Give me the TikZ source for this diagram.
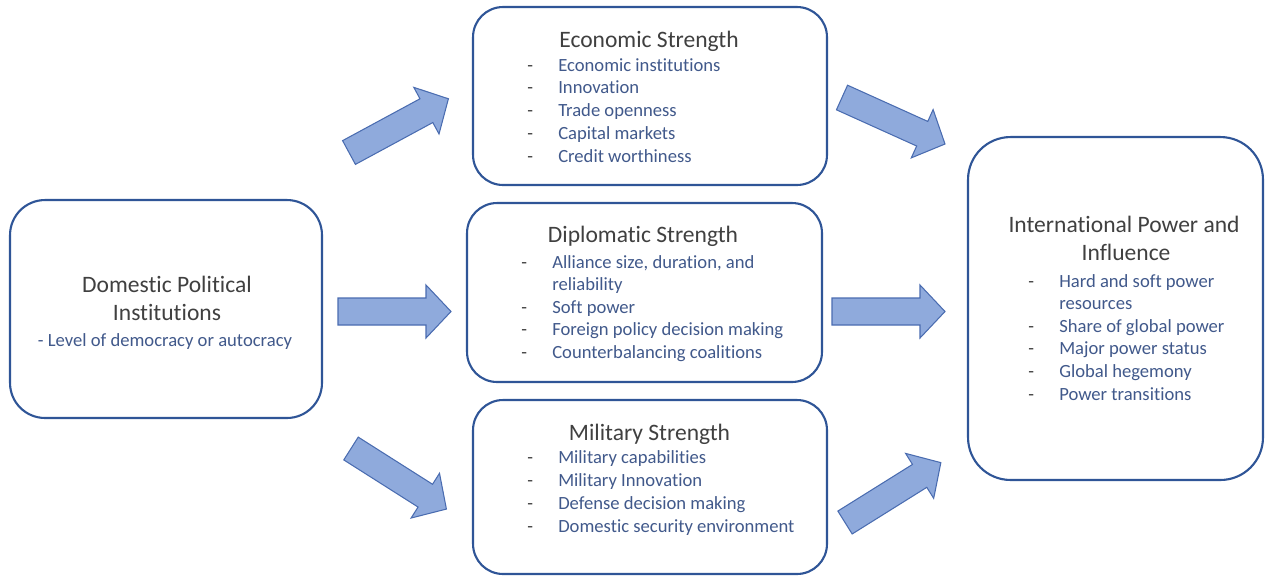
\documentclass[tikz,border=0pt]{standalone}
\usepackage{fontspec}
\setmainfont{Carlito}[RawFeature={-liga;-clig;-dlig;-calt}]
\definecolor{boxblue}{HTML}{2F5597}
\definecolor{arrowfill}{HTML}{8FAADC}
\definecolor{arrowline}{HTML}{4A6CB0}
\definecolor{headgray}{HTML}{404040}
\definecolor{itemblue}{HTML}{41598B}
\newcommand{\headfont}{\fontsize{13.4}{15.9}\selectfont}
\newcommand{\itemfont}{\fontsize{10.6}{12.9}\selectfont}
\newcommand{\itm}[1]{\makebox[17.6pt][l]{\color{headgray}-}\textcolor{itemblue}{#1}}
\newcommand{\cont}[1]{\hspace*{17.6pt}\textcolor{itemblue}{#1}}
\tikzset{
  panel/.style={draw=boxblue, line width=1.2pt, fill=white, rounded corners=#1},
  heading/.style={text=headgray, font=\headfont, inner sep=0, anchor=base},
  item/.style={font=\itemfont, inner sep=0, anchor=base west},
  blockarrow/.pic={
    \draw[draw=arrowline, fill=arrowfill, line width=0.6pt, line join=miter]
      (0,-13.5) -- (88,-13.5) -- (88,-26.5) -- (113,0) -- (88,26.5)
      -- (88,13.5) -- (0,13.5) -- cycle;
  }
}
\begin{document}
\begin{tikzpicture}[x=0.02cm,y=-0.02cm]
  \useasboundingbox (0,0) rectangle (1266,576);
  % boxes
  \node[panel=0.7cm, minimum width=6.24cm, minimum height=4.36cm] (dom) at (166,309) {};
  \node[panel=0.6cm, minimum width=7.08cm, minimum height=3.56cm] (eco) at (650,96) {};
  \node[panel=0.6cm, minimum width=7.1cm, minimum height=3.58cm] (dip) at (644.5,292.5) {};
  \node[panel=0.6cm, minimum width=7.08cm, minimum height=3.48cm] (mil) at (650,487) {};
  \node[panel=0.85cm, minimum width=5.9cm, minimum height=6.86cm] (intl) at (1115.5,308.5) {};

  % domestic political institutions
  \node[heading] (domtitleA) at (167,292) {Domestic Political};
  \node[heading] (domtitleB) at (167,320) {Institutions};
  \node[heading, font=\itemfont, text=itemblue] (domitem) at (165,346) {- Level of democracy or autocracy};

  % economic strength
  \node[heading] (ecotitle) at (649,47) {Economic Strength};
  \foreach \t [count=\i] in {Economic institutions, Innovation, Trade openness,
      Capital markets, Credit worthiness}
    \node[item] (eco\i) at (527,{71+22.75*(\i-1)}) {\itm{\t}};

  % diplomatic strength
  \node[heading] (diptitle) at (643,242) {Diplomatic Strength};
  \node[item] (dip1) at (521,268) {\itm{Alliance size, duration, and}};
  \node[item] (dip1b) at (521,290.5) {\cont{reliability}};
  \node[item] (dip2) at (521,313) {\itm{Soft power}};
  \node[item] (dip3) at (521,335.5) {\itm{Foreign policy decision making}};
  \node[item] (dip4) at (521,358) {\itm{Counterbalancing coalitions}};

  % military strength
  \node[heading] (miltitle) at (649.5,440) {Military Strength};
  \foreach \t [count=\i] in {Military capabilities, Military Innovation,
      Defense decision making, Domestic security environment}
    \node[item] (mil\i) at (527,{463+23.3*(\i-1)}) {\itm{\t}};

  % international power and influence
  \node[heading] (intltitleA) at (1124,232) {International Power and};
  \node[heading] (intltitleB) at (1126,260) {Influence};
  \node[item] (intl1) at (1028,287) {\itm{Hard and soft power}};
  \node[item] (intl1b) at (1028,309.5) {\cont{resources}};
  \foreach \t [count=\i from 2] in {Share of global power, Major power status,
      Global hegemony, Power transitions}
    \node[item] (intl\i) at (1028,{332+22.67*(\i-2)}) {\itm{\t}};

  % block arrows
  \pic[rotate=28.4] (dom2eco) at (349,152.5) {blockarrow};
  \pic (dom2dip) at (338,311.5) {blockarrow};
  \pic[rotate=-32.4] (dom2mil) at (351,448.5) {blockarrow};
  \pic[rotate=-24.3] (eco2intl) at (842,97.5) {blockarrow};
  \pic (dip2intl) at (832,311.5) {blockarrow};
  \pic[rotate=32] (mil2intl) at (845,522.5) {blockarrow};
\end{tikzpicture}
\end{document}
